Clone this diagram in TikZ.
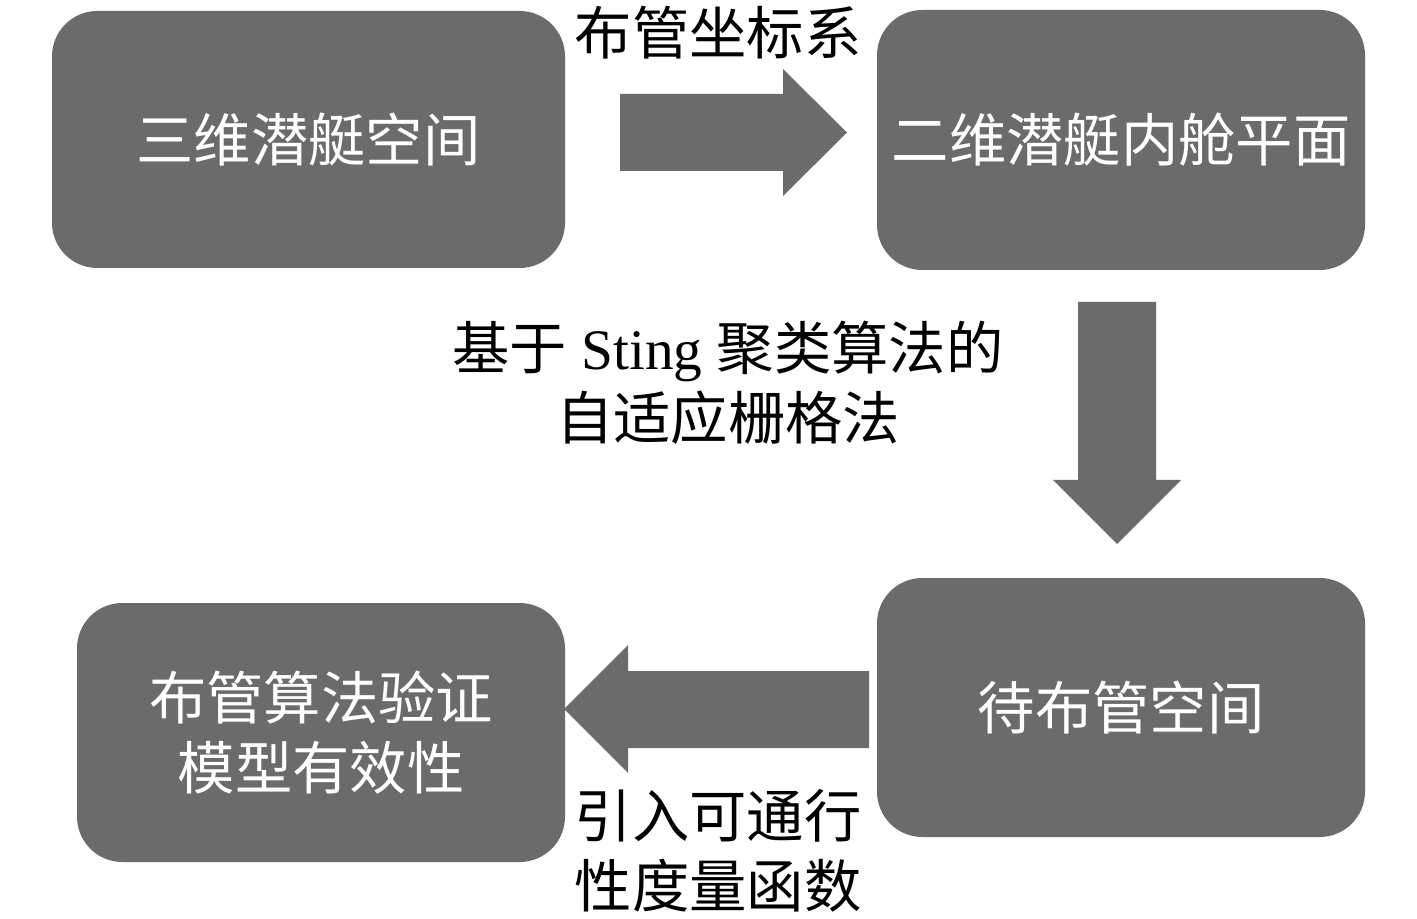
\documentclass[tikz,border=0pt]{standalone}
\usepackage{fontspec}
\setmainfont{Liberation Serif}
\newfontfamily\cjk{Noto Sans CJK SC}
\usepackage{tikz}

\definecolor{boxgray}{RGB}{107,107,107}

\tikzset{
  stagebox/.style={fill=boxgray, rounded corners=34pt, text=white, align=center,
    font=\cjk\fontsize{43}{52.5}\selectfont, inner sep=0pt},
  blockarrow/.style={fill=boxgray},
  steplabel/.style={text=black, align=center, font=\fontsize{43}{52.5}\selectfont, inner sep=0pt}
}

\begin{document}
\begin{tikzpicture}[x=0.75pt,y=0.75pt,yscale=-1,xscale=1]
\useasboundingbox (0,0) rectangle (1417,919);

% Boxes
\node [stagebox, minimum width=384.75pt, minimum height=192.75pt] (space3d) at (308.5,139.5) {三维潜艇空间};
\node [stagebox, minimum width=366pt, minimum height=195pt] (plane2d) at (1121,140) {二维潜艇内舱平面};
\node [stagebox, minimum width=366pt, minimum height=194.25pt] (freespace) at (1121,707.5) {待布管空间};
\node [stagebox, minimum width=366pt, minimum height=194.25pt] (verify) at (321,732.5) {布管算法验证\\模型有效性};

% Block arrows
\fill [blockarrow] (620,94) -- (783,94) -- (783,69) -- (847,132.5) -- (783,196) -- (783,171) -- (620,171) -- cycle;
\fill [blockarrow] (1078,302) -- (1156,302) -- (1156,480) -- (1181,480) -- (1117,544) -- (1053,480) -- (1078,480) -- cycle;
\fill [blockarrow] (869,671) -- (628,671) -- (628,645) -- (564,709) -- (628,773) -- (628,748) -- (869,748) -- cycle;

% Text Nodes
\node [steplabel] (coordlabel) at (718,33) {\cjk 布管坐标系};
\node [steplabel] (gridlabel) at (728,383) {{\cjk 基于} Sting {\cjk 聚类算法的}\\{\cjk 自适应栅格法}};
\node [steplabel] (metriclabel) at (718,851) {{\cjk 引入可通行}\\{\cjk 性度量函数}};

\end{tikzpicture}
\end{document}
